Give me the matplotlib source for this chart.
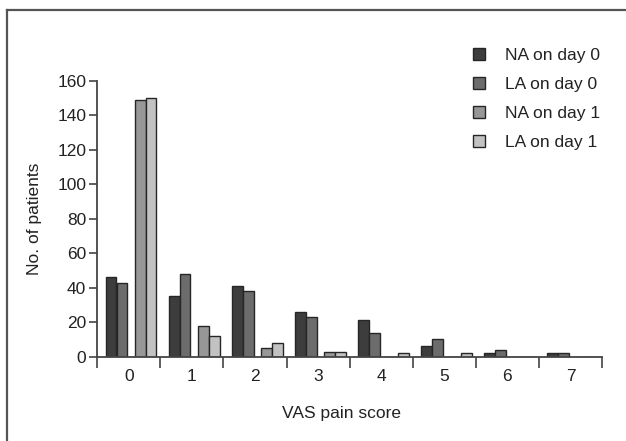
import numpy as np
import matplotlib
matplotlib.use("Agg")
import matplotlib.pyplot as plt
from matplotlib.lines import Line2D

plt.rcParams['font.family'] = ['Liberation Sans', 'DejaVu Sans']

scores = ['0', '1', '2', '3', '4', '5', '6', '7']
na_day0 = [46, 35, 41, 26, 21, 6, 2, 2]
la_day0 = [43, 48, 38, 23, 14, 10, 4, 2]
na_day1 = [149, 18, 5, 3, 0, 0, 0, 0]
la_day1 = [150, 12, 8, 3, 2, 2, 0, 0]
series = [na_day0, la_day0, na_day1, la_day1]
names = ['NA on day 0', 'LA on day 0', 'NA on day 1', 'LA on day 1']
colors = ['#3d3d3d', '#6c6c6c', '#979797', '#c2c2c2']
offsets = [-0.282, -0.108, 0.182, 0.352]
width = 0.17
fs = 12.5

W, H = 626, 441
fig = plt.figure(figsize=(W / 100, H / 100), dpi=100)
ax = fig.add_axes([97.3 / W, 1 - 356.7 / H, (602 - 97.3) / W, (356.7 - 80.7) / H])

x = np.arange(len(scores))
for vals, name, c, off in zip(series, names, colors, offsets):
    ax.bar(x + off, vals, width, color=c, edgecolor='#262626', linewidth=1.0,
           label=name)

ax.set_xlim(-0.5, 7.5)
ax.set_ylim(0, 160)
ax.set_yticks(range(0, 161, 20))
ax.set_xticks(np.arange(-0.5, 8, 1))
ax.set_xticklabels([])
ax.set_xticks(x, minor=True)
ax.set_xticklabels(scores, minor=True)
ax.tick_params(axis='x', which='major', direction='out', length=8, width=1.2, color='#444444')
ax.tick_params(axis='x', which='minor', length=0, pad=9, labelsize=fs, labelcolor='#222222')
ax.tick_params(axis='y', direction='out', length=6, width=1.2, color='#444444',
               labelsize=fs, labelcolor='#222222', pad=2)

for s in ['top', 'right']:
    ax.spines[s].set_visible(False)
for s in ['left', 'bottom']:
    ax.spines[s].set_color('#444444')
    ax.spines[s].set_linewidth(1.3)

ax.set_xlabel('VAS pain score', fontsize=fs, color='#222222')
ax.set_ylabel('No. of patients', fontsize=fs, color='#222222')
ax.xaxis.set_label_coords(0.483, -0.178)
ax.yaxis.set_label_coords(-0.11, 0.5)

leg = ax.legend(loc='upper left', bbox_to_anchor=(0.714, 1.176), frameon=False,
                fontsize=fs, handlelength=0.7, handleheight=0.7,
                handletextpad=1.1, labelspacing=0.8, labelcolor='#222222')

# outer frame (top and left only visible)
fig.add_artist(Line2D([6.5 / W, 1], [1 - 9.5 / H, 1 - 9.5 / H], color='#555555', lw=1.6,
                      transform=fig.transFigure))
fig.add_artist(Line2D([6.5 / W, 6.5 / W], [0, 1 - 9.5 / H], color='#555555', lw=1.6,
                      transform=fig.transFigure))

fig.savefig('out.png', dpi=100, facecolor='white')
